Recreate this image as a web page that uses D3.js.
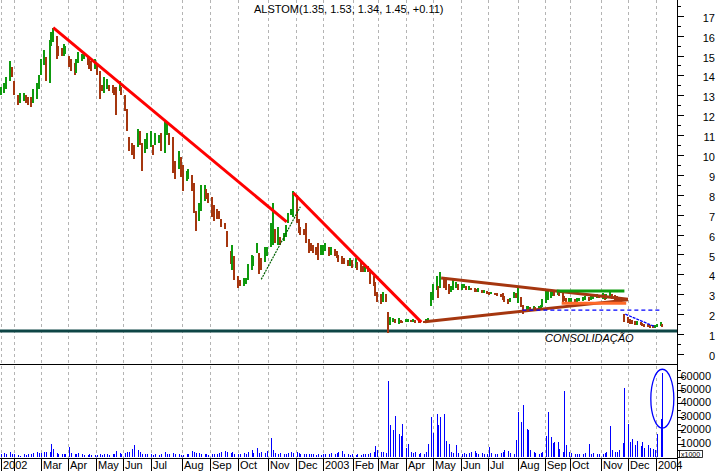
<!DOCTYPE html>
<html><head><meta charset="utf-8">
<script src="https://cdn.jsdelivr.net/npm/d3@7"></script>
<style>
body{margin:0;background:#fff}
svg{display:block}
text{font-family:"Liberation Sans",Arial,sans-serif;font-size:11px;fill:#000}
</style>
</head><body>
<svg id="chart" width="718" height="471"></svg>
<script>
// ---------------- DATA ----------------
const title = "ALSTOM(1.35, 1.53, 1.34, 1.45, +0.11)";
const firstDay = "2002-01-18";
const lastDay = "2004-01-09";
const startLabel = "2002";
const monthStarts = ["2002-02-01","2002-03-01","2002-04-01","2002-05-01","2002-06-01","2002-07-01",
  "2002-08-01","2002-09-01","2002-10-01","2002-11-01","2002-12-01","2003-01-01","2003-02-01",
  "2003-03-01","2003-04-01","2003-05-01","2003-06-01","2003-07-01","2003-08-01","2003-09-01",
  "2003-10-01","2003-11-01","2003-12-01","2004-01-01"];
const monthLabels = ["","Mar","Apr","May","Jun","Jul","Aug","Sep","Oct","Nov","Dec","2003","Feb",
  "Mar","Apr","May","Jun","Jul","Aug","Sep","Oct","Nov","Dec","2004"];

// one bar per two trading days (low / high, euros)
const lows = [
 13.0,13.1,13.3,13.7,13.9,
 13.0,12.5,12.6,12.7,12.6,12.5,12.4,12.6,12.8,13.3,
 14.0,14.5,13.7,13.6,15.5,15.7,14.8,15.0,15.0,15.0,15.1,
 14.4,14.2,14.0,14.1,14.6,14.7,14.8,14.5,14.3,14.2,14.3,
 14.0,12.8,13.2,13.1,13.3,13.2,13.1,13.0,12.0,13.2,13.0,
 12.2,11.2,10.2,10.0,9.8,10.4,10.5,9.2,10.1,10.3,
 10.4,10.0,10.5,10.6,10.2,10.1,11.0,10.5,9.1,8.8,9.3,8.9,
 8.2,8.7,8.8,8.2,7.1,6.2,6.7,7.2,7.7,7.8,7.6,
 6.9,6.7,6.8,6.8,6.4,6.3,5.4,4.5,4.2,3.7,
 3.3,3.4,3.4,3.5,3.7,4.2,4.4,5.1,4.0,4.2,4.6,4.9,
 5.4,5.5,5.6,5.5,5.5,5.7,5.9,6.6,7.0,6.9,
 6.6,6.1,6.0,6.0,5.6,5.1,5.2,5.1,5.0,4.7,5.0,
 5.0,5.2,4.9,5.0,4.9,4.8,4.6,4.5,4.5,4.4,4.4,4.3,
 4.3,4.2,4.1,4.1,4.1,4.1,3.5,3.4,2.9,2.6,
 2.5,2.6,2.6,1.05,1.45,1.6,1.55,1.5,1.55,1.55,
 1.6,1.62,1.6,1.6,1.58,1.55,1.57,1.55,1.6,1.65,2.4,
 2.7,3.2,2.8,3.3,3.3,3.2,3.0,3.1,3.2,3.3,3.2,
 3.2,3.3,3.2,3.2,3.2,3.1,3.1,3.1,3.05,3.05,3.0,
 2.95,3.0,2.95,2.9,2.85,2.7,2.6,2.5,2.6,2.8,2.8,
 2.55,2.35,2.0,2.15,2.2,2.15,2.2,2.2,2.2,2.25,2.35,
 2.55,2.7,2.8,2.9,2.9,2.95,2.9,2.6,2.65,2.6,2.6,
 2.6,2.6,2.62,2.65,2.65,2.7,2.68,2.7,2.75,2.8,2.8,
 2.75,2.7,2.75,2.8,2.75,2.7,2.7,2.7,2.65,1.6,
 1.55,1.5,1.5,1.45,1.45,1.45,1.4,1.38,1.35,1.3,1.3,1.32,
 1.38,1.4,1.34];
const highs = [
 13.4,13.6,13.9,14.7,14.4,
 13.7,13.0,13.1,13.1,13.0,12.9,12.9,13.3,13.6,14.0,
 14.8,15.3,14.9,15.8,16.2,16.4,16.0,15.5,15.4,15.6,15.5,
 15.0,14.8,14.6,14.8,15.2,15.1,15.2,15.0,14.9,14.7,14.8,
 14.6,14.2,13.5,13.9,13.8,13.5,13.5,13.4,13.4,13.7,13.4,
 13.0,12.3,10.9,10.6,10.5,11.3,11.2,10.6,10.8,11.1,
 11.2,10.5,11.1,11.0,11.1,11.7,11.6,11.1,10.9,9.7,10.2,9.9,
 9.5,9.2,9.3,9.0,8.6,7.2,7.6,8.5,8.5,8.3,8.1,
 7.9,7.5,7.3,7.2,6.8,6.6,6.2,5.2,5.5,4.9,
 3.9,3.7,3.8,3.8,4.5,5.0,4.9,5.6,5.1,4.8,5.4,5.4,
 6.6,7.6,6.3,6.4,5.9,6.1,6.5,7.1,7.3,8.2,
 8.0,6.8,6.4,6.3,6.6,5.8,5.6,5.5,5.4,5.6,5.5,
 5.5,5.6,5.4,5.4,5.3,5.2,5.0,4.9,4.8,4.7,4.8,4.7,
 4.8,4.6,4.6,4.4,4.5,4.4,4.1,3.9,3.6,3.1,
 3.0,3.1,3.0,2.1,1.85,1.8,1.75,1.8,1.7,1.65,
 1.75,1.78,1.72,1.75,1.7,1.7,1.68,1.65,1.75,1.8,3.1,
 3.5,3.9,3.4,4.1,3.8,3.7,3.5,3.4,3.7,3.6,3.5,
 3.5,3.5,3.4,3.4,3.3,3.3,3.25,3.3,3.2,3.2,3.15,
 3.1,3.1,3.05,3.05,3.0,3.05,2.9,2.75,2.8,3.1,3.05,
 3.3,2.85,2.45,2.4,2.4,2.35,2.4,2.35,2.4,2.45,2.75,
 3.2,3.25,3.2,3.2,3.15,3.15,3.1,3.1,2.9,2.8,2.8,
 2.8,2.75,2.8,2.8,2.85,2.9,2.85,2.9,2.95,3.0,2.95,
 3.05,3.0,3.0,3.2,3.0,2.95,2.9,2.85,2.8,2.0,
 1.85,1.75,1.7,1.65,1.65,1.6,1.55,1.52,1.5,1.48,1.45,1.45,
 1.5,1.6,1.53];
// volume, thousands of shares
const volumes = [
 2,3,2,3.5,2.5,
 2,1.5,1,2,1.5,2,2.5,3,3.5,3,
 3,4,3.5,4,10,6,3,2.5,2,2,2.5,
 7.5,3,2,2.5,3,2,1.5,1.5,2,1.5,1.5,
 1.5,2,1.5,2.5,2,1.5,2,2.5,4.5,3,2.5,
 3,4,3.5,5.7,9.2,5,3.5,2.5,2,2,
 2,1.5,2,1.5,2.5,3.7,2,2.5,3,2,2,1.5,
 1.5,2,2.5,4.2,3.5,3,3,2.5,2,2,1.5,
 2,2,2.5,3,3.5,4.5,4,3,3.5,2.5,
 2,2.5,3,2.5,3.5,5,3,7,3,3.5,3,4.5,
 14.4,5,3,2.5,3,2.5,2,3,3.5,3,
 3.5,3,2.5,2,2.5,2,2,2,1.5,2,1.5,
 2,2.5,2.5,3,2.5,3,3.5,4.2,2.5,2,1.5,2,
 1.5,2,1.5,2,2.5,2,3,4,8,5,
 4,3.5,3,57,23.6,20.4,30.3,17.4,15.4,24.4,
 6.7,10,4,3,3.5,2.5,3,2,4,10,29.8,
 18,32.3,23.6,29.8,32.3,12,9.5,4,3,9.2,3,
 2.5,3,2,3,3.5,4.5,3,2.5,3,2.5,2,
 7.5,3,2.5,2,3,4,5,4.5,3,2.5,13,
 33.6,26.1,39,21.1,20,5,4,3,2.5,3,4,
 15.4,33.6,15,10.4,11,11.2,6,4,49,9.2,4,
 3,2,2.5,2,2.5,3,9.5,2.5,3,2,2.5,
 2.5,3,4,22.9,5,4,3.5,5,10.4,51.7,
 24.9,11,13.7,9,12,8,11,7,9,6.5,6,5,
 16.9,28.6,63];

const priceTickValues = d3.range(0, 18);
const volumeTickValues = [10000,20000,30000,40000,50000,60000];
const volumeUnitLabel = "x1000";
const supportLevel = 1.15;
const redTrend1 = [["2002-03-15",16.4],["2002-11-21",6.64]];
const redTrend2 = [["2002-11-28",8.1],["2003-04-18",1.6]];
const greenSupport = [["2002-10-25",3.75],["2002-12-06",7.4]];
const brownUpper = [["2003-05-10",3.82],["2003-12-01",2.75]];
const brownLower = [["2003-04-22",1.62],["2003-12-01",2.72]];
const greenTop = [["2003-09-15",3.17],["2003-11-27",3.17]];
const orangeBase = [["2003-09-21",2.55],["2003-11-29",2.55]];
const blueLevel = [["2003-08-06",2.2],["2004-01-06",2.2]];
const blueTrend = [["2003-11-28",2.0],["2003-12-31",1.37]];
const noteText = "CONSOLIDAÇÃO";
const notePos = ["2003-09-01", 0.8];
const volumeHighlight = {value: 43500, spread: 22000};

// ---------------- LAYOUT ----------------
const monthPx = [14,41,68,96,123,151,182,210,238,268,296,323,353,378,406,433,461,488,518,545,570,601,628,656];
const plotRight = 677, volTop = 364, volBottom = 458, H = 471;

const parse = d3.timeParse("%Y-%m-%d");
const x = d3.scaleTime().domain(monthStarts.map(parse)).range(monthPx);
const yP = d3.scaleLinear().domain([0, 17]).range([354, 15.7]);
const yV = d3.scaleLinear().domain([0, 60000]).range([457, 376.6]);

const days = d3.timeDay.range(parse(firstDay), d3.timeDay.offset(parse(lastDay), 1))
  .filter(d => d.getDay() !== 0 && d.getDay() !== 6)
  .filter((d, i) => i % 2 === 0);
const n = Math.min(days.length, lows.length, highs.length, volumes.length);
const bars = d3.range(n).map(i => ({date: days[i], lo: lows[i], hi: highs[i], vol: volumes[i] * 1000}));
bars.forEach((b, i) => {
  const mid = (b.lo + b.hi) / 2;
  const prev = i ? (bars[i-1].lo + bars[i-1].hi) / 2 : mid;
  b.up = mid >= prev;
});

const svg = d3.select("#chart");
const GREEN = "#0e9a0e", BROWN = "#a5360f";

// gridlines
const tickDates = [parse(firstDay)].concat(monthStarts.map(parse));
const tickLabels = [startLabel].concat(monthLabels);
svg.append("g").selectAll("line").data(tickDates).join("line")
  .attr("x1", d => Math.round(x(d)) + 0.5).attr("x2", d => Math.round(x(d)) + 0.5)
  .attr("y1", 0).attr("y2", volBottom)
  .attr("stroke", "#b4b4b4").attr("stroke-dasharray", "3,3");

// title
svg.append("text").attr("x", 254).attr("y", 13).text(title);

// support level
svg.append("line").attr("x1", 0).attr("x2", plotRight)
  .attr("y1", yP(supportLevel)).attr("y2", yP(supportLevel))
  .attr("stroke", "#0d4545").attr("stroke-width", 3);

// price bars
svg.append("g").attr("shape-rendering", "crispEdges").selectAll("rect").data(bars).join("rect")
  .attr("x", d => Math.round(x(d.date)) - 1)
  .attr("width", 2)
  .attr("y", d => yP(d.hi))
  .attr("height", d => Math.max(1, yP(d.lo) - yP(d.hi)))
  .attr("fill", d => d.up ? GREEN : BROWN);

// trend lines
const seg = (pts, color, w, dash) => {
  const l = svg.append("line")
    .attr("x1", x(parse(pts[0][0]))).attr("y1", yP(pts[0][1]))
    .attr("x2", x(parse(pts[1][0]))).attr("y2", yP(pts[1][1]))
    .attr("stroke", color).attr("stroke-width", w);
  if (dash) l.attr("stroke-dasharray", dash);
};
seg(redTrend1, "#ff0000", 3);
seg(redTrend2, "#ff0000", 3);
seg(greenSupport, "#006000", 1.2, "2,1");
seg(brownUpper, "#a5360f", 3);
seg(brownLower, "#a5360f", 3);
seg(greenTop, GREEN, 3);
seg(orangeBase, "#ff6a2a", 3);
seg(blueLevel, "#0000ff", 1.3, "4,3");
seg(blueTrend, "#0000ff", 1.3, "3,1");

svg.append("text").attr("x", x(parse(notePos[0]))).attr("y", yP(notePos[1]) + 4)
  .attr("font-style", "italic").text(noteText);

// volume bars
svg.append("g").attr("shape-rendering", "crispEdges").selectAll("line").data(bars).join("line")
  .attr("x1", d => Math.round(x(d.date)) + 0.5).attr("x2", d => Math.round(x(d.date)) + 0.5)
  .attr("y1", yV(0)).attr("y2", d => yV(d.vol))
  .attr("stroke", "#0000ff");

// highlight ellipse
const last = bars[n - 1];
svg.append("ellipse")
  .attr("cx", x(last.date)).attr("cy", yV(volumeHighlight.value))
  .attr("rx", 11.5).attr("ry", (yV(0) - yV(volumeHighlight.spread)))
  .attr("fill", "none").attr("stroke", "#0000ff").attr("stroke-width", 1.3);

// frame lines
const frame = svg.append("g").attr("shape-rendering", "crispEdges").attr("stroke", "#000");
frame.append("line").attr("x1", 0).attr("x2", plotRight).attr("y1", volTop + 0.5).attr("y2", volTop + 0.5);
frame.append("line").attr("x1", 0).attr("x2", plotRight).attr("y1", volBottom + 0.5).attr("y2", volBottom + 0.5);
frame.append("line").attr("x1", plotRight + 0.5).attr("x2", plotRight + 0.5).attr("y1", 0).attr("y2", H);

// x ticks and labels
const xt = svg.append("g");
xt.selectAll("line").data(tickDates).join("line")
  .attr("x1", d => Math.round(x(d)) + 0.5).attr("x2", d => Math.round(x(d)) + 0.5)
  .attr("y1", volBottom).attr("y2", H).attr("stroke", "#000").attr("shape-rendering", "crispEdges");
xt.selectAll("text").data(tickDates).join("text")
  .attr("x", d => Math.round(x(d)) + 2).attr("y", 469)
  .text((d, i) => tickLabels[i]);

// price axis
const pa = svg.append("g").attr("shape-rendering", "crispEdges");
pa.selectAll("line.maj").data(priceTickValues).join("line").attr("class", "maj")
  .attr("x1", plotRight).attr("x2", plotRight + 7)
  .attr("y1", d => Math.round(yP(d)) + 0.5).attr("y2", d => Math.round(yP(d)) + 0.5).attr("stroke", "#000");
pa.selectAll("line.min").data(priceTickValues.map(v => v + 0.5)).join("line").attr("class", "min")
  .attr("x1", plotRight).attr("x2", plotRight + 4)
  .attr("y1", d => Math.round(yP(d)) + 0.5).attr("y2", d => Math.round(yP(d)) + 0.5).attr("stroke", "#000");
pa.selectAll("text").data(priceTickValues).join("text")
  .attr("x", 715).attr("y", d => yP(d) + 6).attr("text-anchor", "end").text(d => d);

// volume axis
const va = svg.append("g").attr("shape-rendering", "crispEdges");
va.selectAll("line.maj").data(d3.range(0, 70000, 10000)).join("line").attr("class", "maj")
  .attr("x1", plotRight).attr("x2", plotRight + 7)
  .attr("y1", d => Math.round(yV(d)) + 0.5).attr("y2", d => Math.round(yV(d)) + 0.5).attr("stroke", "#000");
va.selectAll("line.min").data(d3.range(5000, 70000, 10000)).join("line").attr("class", "min")
  .attr("x1", plotRight).attr("x2", plotRight + 4)
  .attr("y1", d => Math.round(yV(d)) + 0.5).attr("y2", d => Math.round(yV(d)) + 0.5).attr("stroke", "#000");
va.selectAll("text").data(volumeTickValues).join("text")
  .attr("x", 711).attr("y", d => yV(d) + 3).attr("text-anchor", "end").text(d => d);
svg.append("rect").attr("x", 679.5).attr("y", 450.5).attr("width", 23).attr("height", 7)
  .attr("fill", "#fff").attr("stroke", "#000").attr("stroke-width", 0.8);
svg.append("text").attr("x", 681).attr("y", 456.5).style("font-size", "7px").text(volumeUnitLabel);
</script>
</body></html>
